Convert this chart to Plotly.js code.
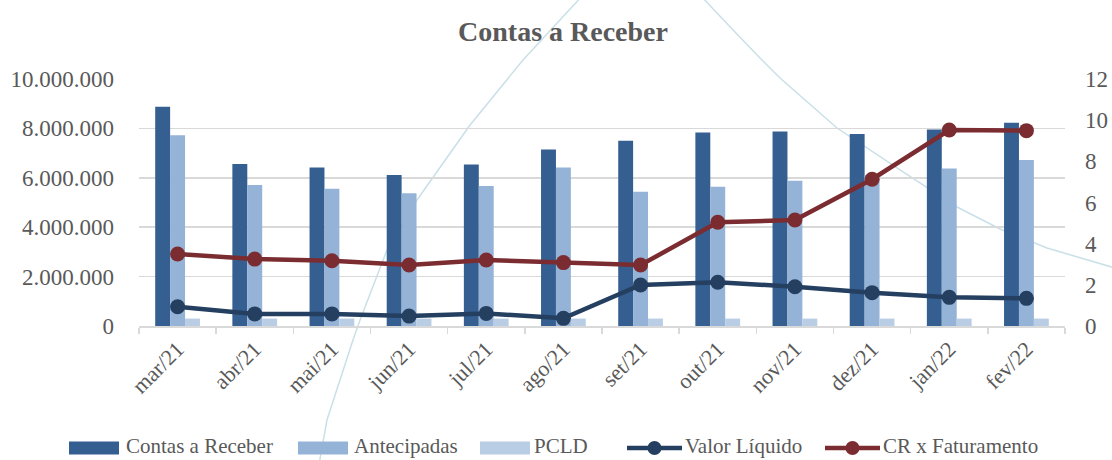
<!DOCTYPE html>
<html>
<head>
<meta charset="utf-8">
<script src="https://cdn.plot.ly/plotly-3.0.1.min.js"></script>
<style>
  html, body { margin: 0; padding: 0; background: #fff; }
  #grafico { width: 1112px; height: 460px; }
</style>
</head>
<body>
<div id="grafico"></div>
<script>
var meses = ['mar/21', 'abr/21', 'mai/21', 'jun/21', 'jul/21', 'ago/21', 'set/21', 'out/21', 'nov/21', 'dez/21', 'jan/22', 'fev/22'];
var contasReceber = [8880000, 6560000, 6420000, 6110000, 6540000, 7150000, 7500000, 7830000, 7870000, 7770000, 7960000, 8230000];
var antecipadas = [7720000, 5710000, 5560000, 5370000, 5670000, 6420000, 5440000, 5640000, 5880000, 6100000, 6380000, 6720000];
var pcld = [300000, 300000, 300000, 300000, 300000, 300000, 300000, 300000, 300000, 300000, 300000, 300000];
var valorLiquido = [780000, 490000, 490000, 400000, 510000, 310000, 1660000, 1770000, 1590000, 1350000, 1160000, 1120000];
var crFaturamento = [3.50, 3.25, 3.17, 2.96, 3.21, 3.08, 2.96, 5.04, 5.15, 7.13, 9.52, 9.49];

var nomes = ['Contas a Receber', 'Antecipadas', 'PCLD', 'Valor Líquido', 'CR x Faturamento'];
var cores = ['#355F91', '#95B3D7', '#B9CDE5', '#243F60', '#7B2C30'];

var fonte = '"Liberation Serif", "DejaVu Serif", serif';
var cinza = '#595959';

// pixel da janela -> coordenadas "paper" (área do gráfico: x 139..1065, y 79..326)
function px(x) { return (x - 139) / 926; }
function py(y) { return (326 - y) / 247; }

// fundo decorativo do slide (arcos azul claro)
var arcoEsq = [[318, 470], [327, 420], [353, 340], [360, 320], [387, 250], [417, 200], [470, 125], [523, 60], [583, -5]];
var arcoDir = [[700, -5], [735, 32], [760, 58], [780, 78], [837, 128], [903, 172], [957, 207], [1000, 229], [1047, 248], [1115, 268]];
function caminho(pts) {
  return pts.map(function(p, i) {
    return (i ? 'L' : 'M') + px(p[0]).toFixed(4) + ',' + py(p[1]).toFixed(4);
  }).join(' ');
}

var data = [
  { x: meses, y: contasReceber, type: 'bar', name: nomes[0], marker: { color: cores[0] } },
  { x: meses, y: antecipadas, type: 'bar', name: nomes[1], marker: { color: cores[1] } },
  { x: meses, y: pcld, type: 'bar', name: nomes[2], marker: { color: cores[2] } },
  { x: meses, y: valorLiquido, type: 'scatter', mode: 'lines+markers', name: nomes[3],
    line: { color: cores[3], width: 4.5 }, marker: { color: cores[3], size: 15 } },
  { x: meses, y: crFaturamento, type: 'scatter', mode: 'lines+markers', name: nomes[4], yaxis: 'y2',
    line: { color: cores[4], width: 4.5 }, marker: { color: cores[4], size: 15 } }
];

var shapes = [
  { type: 'path', xref: 'paper', yref: 'paper', layer: 'below', path: caminho(arcoEsq), line: { color: '#C9E0E8', width: 1.5 } },
  { type: 'path', xref: 'paper', yref: 'paper', layer: 'below', path: caminho(arcoDir), line: { color: '#C9E0E8', width: 1.5 } }
];
var annotations = [];

// legenda desenhada à mão (retângulos largos como no Excel)
var legY = 448;
var legSimbolo = [69, 298, 480, 627, 825];
var legTexto = [125, 353, 533, 684, 882];
for (var i = 0; i < nomes.length; i++) {
  if (i < 3) {
    shapes.push({ type: 'rect', xref: 'paper', yref: 'paper', x0: px(legSimbolo[i]), x1: px(legSimbolo[i] + 50),
      y0: py(legY + 6.5), y1: py(legY - 6.5), fillcolor: cores[i], line: { width: 0 } });
  } else {
    shapes.push({ type: 'line', xref: 'paper', yref: 'paper', x0: px(legSimbolo[i]), x1: px(legSimbolo[i] + 55),
      y0: py(legY), y1: py(legY), line: { color: cores[i], width: 4.5 } });
    shapes.push({ type: 'circle', xref: 'paper', yref: 'paper', x0: px(legSimbolo[i] + 20.5), x1: px(legSimbolo[i] + 34.5),
      y0: py(legY + 7), y1: py(legY - 7), fillcolor: cores[i], line: { width: 0 } });
  }
  annotations.push({ text: nomes[i], xref: 'paper', yref: 'paper', x: px(legTexto[i]), y: py(legY - 2),
    xanchor: 'left', yanchor: 'middle', showarrow: false, borderpad: 0,
    font: { family: fonte, size: 21, color: cinza } });
}

var layout = {
  width: 1112,
  height: 460,
  margin: { l: 139, r: 47, t: 79, b: 134 },
  paper_bgcolor: '#fff',
  plot_bgcolor: 'rgba(0,0,0,0)',
  separators: ',.',
  font: { family: fonte, size: 22, color: cinza },
  title: { text: '<b>Contas a Receber</b>', x: 563 / 1112, xref: 'container', xanchor: 'center',
    y: 1 - 31 / 460, yref: 'container', yanchor: 'middle',
    font: { family: fonte, size: 28, color: cinza } },
  barmode: 'group',
  bargap: 0.42,
  bargroupgap: 0,
  showlegend: false,
  xaxis: {
    type: 'category', range: [-0.5, 11.5], tickangle: -45, showgrid: false, automargin: false,
    showline: true, linecolor: '#d9d9d9', linewidth: 1.5,
    ticks: 'outside', tickson: 'boundaries', ticklen: 6, tickcolor: '#d9d9d9', tickwidth: 1.5,
    tickfont: { family: fonte, size: 22, color: cinza }
  },
  yaxis: {
    range: [0, 10000000], tickvals: [0, 2000000, 4000000, 6000000, 8000000, 10000000],
    tickformat: ',d', showgrid: true, gridcolor: '#d9d9d9', gridwidth: 1.5, zeroline: false,
    automargin: false, ticklabelstandoff: 24, tickfont: { family: fonte, size: 23, color: cinza }
  },
  yaxis2: {
    overlaying: 'y', side: 'right', range: [0, 12], tickvals: [0, 2, 4, 6, 8, 10, 12],
    showgrid: false, zeroline: false, automargin: false, ticklabelstandoff: 19,
    tickfont: { family: fonte, size: 23, color: cinza }
  },
  shapes: shapes,
  annotations: annotations
};

Plotly.newPlot('grafico', data, layout, { displayModeBar: false, staticPlot: true });
</script>
</body>
</html>
